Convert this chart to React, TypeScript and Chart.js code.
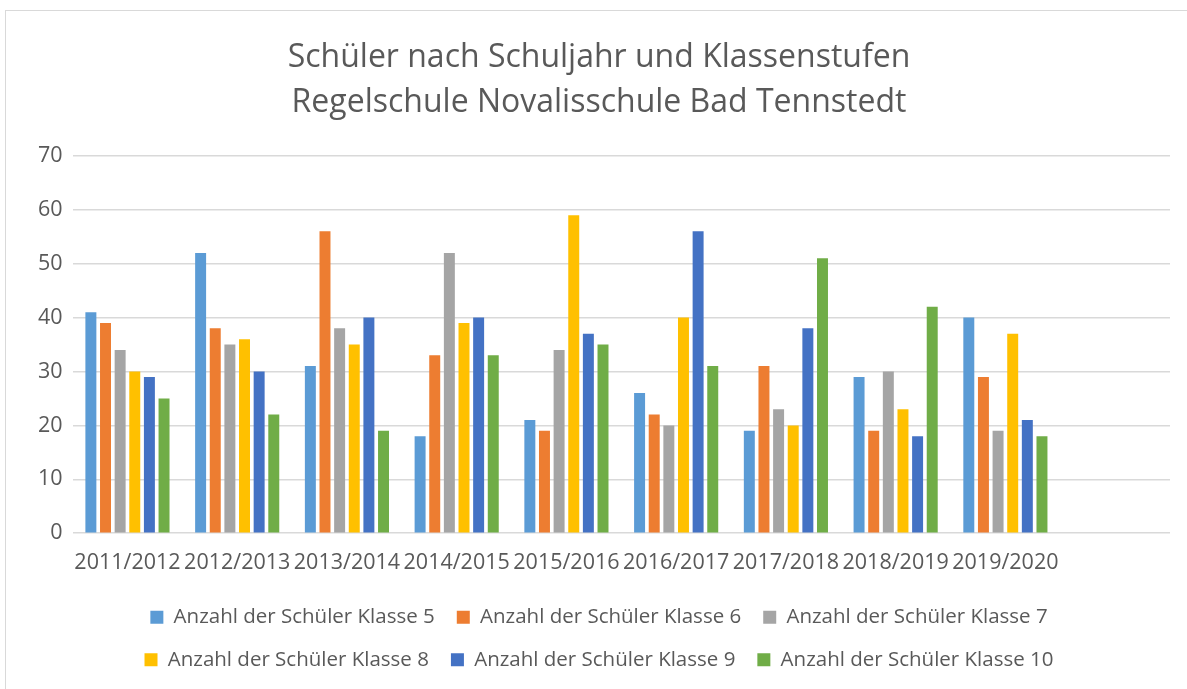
import React, { useEffect, useRef } from "react";
import { Chart, registerables } from "chart.js";

Chart.register(...registerables);

const categories = [
  "2011/2012",
  "2012/2013",
  "2013/2014",
  "2014/2015",
  "2015/2016",
  "2016/2017",
  "2017/2018",
  "2018/2019",
  "2019/2020",
  "",
];

const seriesNames = [
  "Anzahl der Schüler Klasse 5",
  "Anzahl der Schüler Klasse 6",
  "Anzahl der Schüler Klasse 7",
  "Anzahl der Schüler Klasse 8",
  "Anzahl der Schüler Klasse 9",
  "Anzahl der Schüler Klasse 10",
];

const klasse5 = [41, 52, 31, 18, 21, 26, 19, 29, 40];
const klasse6 = [39, 38, 56, 33, 19, 22, 31, 19, 29];
const klasse7 = [34, 35, 38, 52, 34, 20, 23, 30, 19];
const klasse8 = [30, 36, 35, 39, 59, 40, 20, 23, 37];
const klasse9 = [29, 30, 40, 40, 37, 56, 38, 18, 21];
const klasse10 = [25, 22, 19, 33, 35, 31, 51, 42, 18];

const seriesValues = [klasse5, klasse6, klasse7, klasse8, klasse9, klasse10];
const seriesColors = ["#5B9BD5", "#ED7D31", "#A5A5A5", "#FFC000", "#4472C4", "#70AD47"];

const titleLines = [
  "Schüler nach Schuljahr und Klassenstufen",
  "Regelschule Novalisschule Bad Tennstedt",
];

const FONT = "'Open Sans', sans-serif";
const TEXT = "#595959";

export default function App() {
  const ref = useRef<HTMLCanvasElement | null>(null);

  useEffect(() => {
    document.body.style.margin = "0";
    if (!ref.current) return;
    const chart = new Chart(ref.current, {
      type: "bar",
      data: {
        labels: categories,
        datasets: seriesNames.map((name, i) => ({
          label: name,
          data: seriesValues[i],
          backgroundColor: seriesColors[i],
          borderWidth: 0,
          categoryPercentage: 0.8,
          barPercentage: 0.75,
        })),
      },
      options: {
        responsive: false,
        animation: false,
        devicePixelRatio: 1,
        layout: { padding: { top: 23, left: 28, right: 17, bottom: 9 } },
        plugins: {
          title: {
            display: true,
            text: titleLines,
            color: TEXT,
            font: { family: FONT, size: 32, weight: "normal", lineHeight: 1.42 },
            padding: { top: 12, bottom: 30 },
          },
          legend: {
            position: "bottom",
            labels: {
              color: TEXT,
              font: { family: FONT, size: 20.5 },
              boxWidth: 13,
              boxHeight: 13,
              padding: 22,
            },
          },
          tooltip: { enabled: false },
        },
        scales: {
          x: {
            grid: { display: false },
            border: { display: false },
            ticks: {
              color: TEXT,
              font: { family: FONT, size: 21.5 },
              maxRotation: 0,
              autoSkip: false,
              padding: 9,
            },
          },
          y: {
            min: 0,
            max: 70,
            grid: { color: "#d9d9d9", lineWidth: 1.5, drawTicks: false },
            border: { display: false },
            ticks: {
              stepSize: 10,
              color: TEXT,
              font: { family: FONT, size: 21.5 },
              padding: 10,
            },
          },
        },
      },
    });
    return () => chart.destroy();
  }, []);

  return (
    <div style={{ position: "relative", width: 1187, height: 689, overflow: "hidden", background: "#fff" }}>
      <div
        style={{
          position: "absolute",
          left: 5,
          top: 10,
          width: 1220,
          height: 720,
          border: "1px solid #d9d9d9",
          boxSizing: "border-box",
        }}
      />
      <canvas
        ref={ref}
        width={1187}
        height={689}
        style={{ position: "absolute", left: 0, top: 0, display: "block" }}
      />
    </div>
  );
}
